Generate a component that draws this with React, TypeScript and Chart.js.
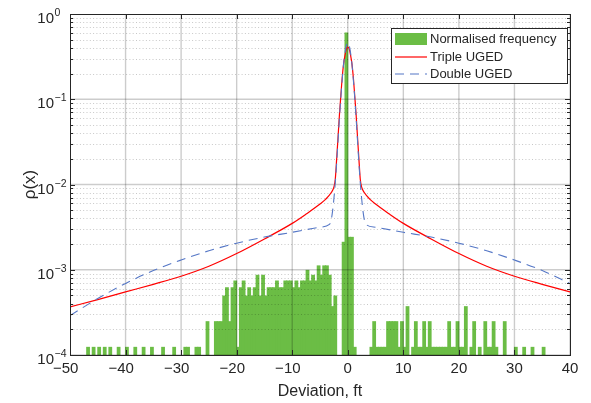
import React, { useEffect, useRef } from 'react';
import { Chart, registerables } from 'chart.js';

Chart.register(...registerables);

// ---------- data ----------
const binCenters = [
  -46.75, -45.75, -44.75, -43.75, -42.75, -41.25, -39.75, -38.25, -36.75, -35.25,
  -33.25, -31.25, -29.25, -28.75, -27.25, -26.75, -25.25, -23.75, -23.25, -22.75,
  -22.25, -21.75, -21.25, -20.75, -20.25, -19.75, -19.25, -18.75, -18.25, -17.75,
  -17.25, -16.75, -16.25, -15.75, -15.25, -14.75, -14.25, -13.75, -13.25, -12.75,
  -12.25, -11.75, -11.25, -10.75, -10.25, -9.75, -9.25, -8.75, -8.25, -7.75,
  -7.25, -6.75, -6.25, -5.75, -5.25, -4.75, -4.25, -3.75, -3.25, -2.75,
  -2.25, -0.75, -0.25, 0.25, 0.75, 1.25, 4.25, 4.75, 5.25, 5.75,
  6.25, 6.75, 7.25, 7.75, 8.25, 8.75, 9.25, 9.75, 10.25, 10.75,
  11.75, 12.25, 12.75, 13.25, 13.75, 14.25, 14.75, 15.25, 15.75, 16.25,
  16.75, 17.25, 17.75, 18.25, 18.75, 19.25, 19.75, 20.25, 20.75, 21.25,
  22.25, 22.75, 23.75, 24.75, 25.25, 25.75, 26.25, 26.75, 28.25, 30.25,
  31.75, 33.25, 35.25,
];
const frequency = [
  1.23e-4, 1.23e-4, 1.23e-4, 1.23e-4, 1.23e-4, 1.23e-4, 1.23e-4, 1.23e-4, 1.23e-4, 1.23e-4,
  1.23e-4, 1.23e-4, 1.23e-4, 1.23e-4, 1.23e-4, 1.23e-4, 2.46e-4, 2.46e-4, 2.46e-4, 2.46e-4,
  4.92e-4, 6.15e-4, 2.46e-4, 6.15e-4, 7.38e-4, 1.23e-4, 6.15e-4, 7.38e-4, 4.92e-4, 6.15e-4,
  4.92e-4, 6.15e-4, 8.61e-4, 4.92e-4, 8.61e-4, 4.92e-4, 6.15e-4, 6.15e-4, 6.15e-4, 7.38e-4,
  6.15e-4, 6.15e-4, 7.38e-4, 7.38e-4, 7.38e-4, 6.15e-4, 7.38e-4, 6.15e-4, 7.38e-4, 7.38e-4,
  9.84e-4, 7.38e-4, 8.61e-4, 7.38e-4, 1.11e-3, 8.61e-4, 1.11e-3, 1.11e-3, 8.61e-4, 3.69e-4,
  4.92e-4, 2.1e-3, 0.6, 2.4e-3, 2.4e-3, 1.23e-4, 1.23e-4, 2.46e-4, 1.23e-4, 1.23e-4,
  1.23e-4, 1.23e-4, 2.46e-4, 2.46e-4, 2.46e-4, 2.46e-4, 1.23e-4, 2.46e-4, 1.23e-4, 3.69e-4,
  1.23e-4, 2.46e-4, 1.23e-4, 1.23e-4, 2.46e-4, 1.23e-4, 2.46e-4, 1.23e-4, 1.23e-4, 1.23e-4,
  1.23e-4, 1.23e-4, 1.23e-4, 2.46e-4, 1.23e-4, 1.23e-4, 2.46e-4, 1.23e-4, 1.23e-4, 3.69e-4,
  1.23e-4, 2.46e-4, 1.23e-4, 2.46e-4, 1.23e-4, 1.23e-4, 2.46e-4, 1.23e-4, 2.46e-4, 1.23e-4,
  1.23e-4, 1.23e-4, 1.23e-4,
];

const tripleX = [
  -50, -45, -40, -35, -30, -25, -20, -15, -10, -7.5, -5, -4, -3, -2.5,
  -2.25, -2, -1.75, -1.5, -1.25, -1, -0.75, -0.5, -0.25, 0, 0.25, 0.5, 0.75, 1, 1.25, 1.5,
  1.75, 2, 2.25, 2.5, 3, 4, 5, 7.5, 10, 15, 20, 25, 30, 35, 40,
];
const tripleY = [
  3.66e-4, 4.47e-4, 5.5e-4, 6.75e-4, 8.4e-4, 1.1e-3, 1.55e-3, 2.3e-3, 3.5e-3, 4.5e-3, 5.9e-3, 6.7e-3, 8.0e-3, 9.3e-3,
  1.15e-2, 2.0e-2, 3.6e-2, 6.6e-2, 0.11, 0.18, 0.26, 0.33, 0.39, 0.41, 0.39, 0.33, 0.26, 0.18, 0.11, 6.6e-2,
  3.6e-2, 2.0e-2, 1.15e-2, 9.3e-3, 8.0e-3, 6.7e-3, 5.9e-3, 4.5e-3, 3.5e-3, 2.3e-3, 1.55e-3, 1.1e-3, 8.4e-4, 6.75e-4, 5.5e-4,
];

const doubleX = [
  -50, -45, -40, -35, -30, -25, -20, -15, -10, -5, -3.3, -3, -2.75, -2.5,
  -2.25, -2, -1.75, -1.5, -1.25, -1, -0.75, -0.5, -0.25, 0, 0.25, 0.5, 0.75, 1, 1.25, 1.5,
  1.75, 2, 2.25, 2.5, 2.75, 3, 3.3, 5, 10, 15, 20, 25, 30, 35, 40,
];
const doubleY = [
  2.9e-4, 4.6e-4, 6.9e-4, 9.8e-4, 1.3e-3, 1.67e-3, 2.05e-3, 2.42e-3, 2.75e-3, 3.15e-3, 3.4e-3, 3.8e-3, 4.8e-3, 6.8e-3,
  1.05e-2, 1.8e-2, 3.3e-2, 6.0e-2, 0.105, 0.17, 0.26, 0.35, 0.43, 0.46, 0.43, 0.35, 0.26, 0.17, 0.105, 6.0e-2,
  3.3e-2, 1.8e-2, 1.05e-2, 6.8e-3, 4.8e-3, 3.8e-3, 3.4e-3, 3.15e-3, 2.75e-3, 2.42e-3, 2.05e-3, 1.67e-3, 1.3e-3, 9.8e-4, 6.9e-4,
];

const xTicks = [-50, -40, -30, -20, -10, 0, 10, 20, 30, 40];
const yTicks = [1e-4, 1e-3, 1e-2, 1e-1, 1];
const yTickExponents = ['\u22124', '\u22123', '\u22122', '\u22121', '0'];
const minorMultipliers = [2, 3, 4, 5, 6, 7, 8, 9];
const legendLabels = ['Normalised frequency', 'Triple UGED', 'Double UGED'];
const xTitle = 'Deviation, ft';
const yTitle = '\u03C1(x)';

// ---------- styles ----------
const GREEN = '#6bbd45';
const RED = '#ff0000';
const BLUE = '#5577c6';
const AXIS = '#262626';
const FONT = '"Liberation Sans", Arial, Helvetica, sans-serif';
const DASH = [9, 6];

const matlabPlugin = {
  id: 'matlabLook',
  afterDatasetDraw(chart: any, args: any) {
    if (args.index !== 0) return;
    const { ctx, chartArea: a, scales } = chart;
    const xs = scales.x;
    const ys = scales.y;
    ctx.save();
    ctx.beginPath();
    ctx.rect(a.left, a.top, a.right - a.left, a.bottom - a.top);
    ctx.clip();
    // minor horizontal dotted grid
    ctx.strokeStyle = 'rgba(0,0,0,0.22)';
    ctx.lineWidth = 1;
    ctx.setLineDash([1, 2.3]);
    for (let i = 0; i < yTicks.length - 1; i++) {
      for (const m of minorMultipliers) {
        const y = Math.round(ys.getPixelForValue(yTicks[i] * m)) + 0.5;
        ctx.beginPath();
        ctx.moveTo(a.left, y);
        ctx.lineTo(a.right, y);
        ctx.stroke();
      }
    }
    ctx.setLineDash([]);
    // major grid
    ctx.strokeStyle = 'rgba(0,0,0,0.2)';
    ctx.lineWidth = 1.4;
    for (const t of xTicks) {
      const x = xs.getPixelForValue(t);
      ctx.beginPath();
      ctx.moveTo(x, a.top);
      ctx.lineTo(x, a.bottom);
      ctx.stroke();
    }
    for (const t of yTicks) {
      const y = ys.getPixelForValue(t);
      ctx.beginPath();
      ctx.moveTo(a.left, y);
      ctx.lineTo(a.right, y);
      ctx.stroke();
    }
    ctx.restore();
  },
  afterDraw(chart: any) {
    const { ctx, chartArea: a, scales } = chart;
    const xs = scales.x;
    const ys = scales.y;
    ctx.save();
    // frame
    ctx.strokeStyle = AXIS;
    ctx.lineWidth = 1;
    ctx.strokeRect(Math.round(a.left) + 0.5, Math.round(a.top) + 0.5, Math.round(a.right - a.left), Math.round(a.bottom - a.top));
    // x ticks
    for (const t of xTicks) {
      const x = Math.round(xs.getPixelForValue(t)) + 0.5;
      ctx.beginPath();
      ctx.moveTo(x, a.bottom);
      ctx.lineTo(x, a.bottom - 5);
      ctx.moveTo(x, a.top);
      ctx.lineTo(x, a.top + 5);
      ctx.stroke();
    }
    // y ticks (major + minor)
    for (let i = 0; i < yTicks.length; i++) {
      const y = Math.round(ys.getPixelForValue(yTicks[i])) + 0.5;
      ctx.beginPath();
      ctx.moveTo(a.left, y);
      ctx.lineTo(a.left + 5, y);
      ctx.moveTo(a.right, y);
      ctx.lineTo(a.right - 5, y);
      ctx.stroke();
      if (i < yTicks.length - 1) {
        for (const m of minorMultipliers) {
          const ym = Math.round(ys.getPixelForValue(yTicks[i] * m)) + 0.5;
          ctx.beginPath();
          ctx.moveTo(a.left, ym);
          ctx.lineTo(a.left + 3, ym);
          ctx.moveTo(a.right, ym);
          ctx.lineTo(a.right - 3, ym);
          ctx.stroke();
        }
      }
    }
    // x tick labels
    ctx.fillStyle = AXIS;
    ctx.font = `15px ${FONT}`;
    ctx.textBaseline = 'alphabetic';
    for (const t of xTicks) {
      const x = xs.getPixelForValue(t);
      const s = String(Math.abs(t));
      const w = ctx.measureText(s).width;
      ctx.textAlign = 'center';
      ctx.fillText(s, x, a.bottom + 18);
      if (t < 0) {
        ctx.textAlign = 'right';
        ctx.fillText('\u2212', x - w / 2, a.bottom + 18);
      }
    }
    // y tick labels
    for (let i = 0; i < yTicks.length; i++) {
      const y = ys.getPixelForValue(yTicks[i]);
      ctx.font = `15px ${FONT}`;
      ctx.textAlign = 'right';
      ctx.fillText('10', 54, y + 9);
      ctx.font = `10.5px ${FONT}`;
      ctx.textAlign = 'left';
      ctx.fillText(yTickExponents[i], 54.5, y + 2);
    }
    // axis titles
    ctx.font = `16px ${FONT}`;
    ctx.textAlign = 'center';
    ctx.textBaseline = 'middle';
    ctx.fillText(xTitle, (a.left + a.right) / 2, 392);
    ctx.save();
    ctx.translate(30, (a.top + a.bottom) / 2);
    ctx.rotate(-Math.PI / 2);
    ctx.font = `17px ${FONT}`;
    ctx.fillText(yTitle, 0, 0);
    ctx.restore();

    // legend
    const lx = 391.5, ly = 28.5, lw = 176, lh = 55;
    ctx.fillStyle = '#ffffff';
    ctx.fillRect(lx, ly, lw, lh);
    ctx.strokeStyle = AXIS;
    ctx.lineWidth = 1;
    ctx.strokeRect(lx, ly, lw, lh);
    const rows = [39.5, 57, 74];
    ctx.fillStyle = GREEN;
    ctx.fillRect(395, 33, 32, 12);
    ctx.strokeStyle = RED;
    ctx.lineWidth = 1.2;
    ctx.beginPath();
    ctx.moveTo(395, rows[1]);
    ctx.lineTo(427, rows[1]);
    ctx.stroke();
    ctx.strokeStyle = BLUE;
    ctx.setLineDash(DASH);
    ctx.beginPath();
    ctx.moveTo(395, rows[2]);
    ctx.lineTo(427, rows[2]);
    ctx.stroke();
    ctx.setLineDash([]);
    ctx.fillStyle = AXIS;
    ctx.font = `13px ${FONT}`;
    ctx.textAlign = 'left';
    ctx.textBaseline = 'middle';
    legendLabels.forEach((l, i) => ctx.fillText(l, 430, rows[i]));
    ctx.restore();
  },
};

export default function App() {
  const ref = useRef<HTMLCanvasElement>(null);
  useEffect(() => {
    document.body.style.margin = '0';
    const barData = binCenters.map((x, i) => ({ x, y: frequency[i] }));
    const tripleData = tripleX.map((x, i) => ({ x, y: tripleY[i] }));
    const doubleData = doubleX.map((x, i) => ({ x, y: doubleY[i] }));
    const chart = new Chart(ref.current as HTMLCanvasElement, {
      type: 'bar',
      data: {
        datasets: [
          {
            type: 'bar',
            label: legendLabels[0],
            data: barData as any,
            backgroundColor: GREEN,
            borderWidth: 0,
            barPercentage: 1,
            categoryPercentage: 1,
            inflateAmount: 0.5,
            base: 1e-4,
            order: 3,
          } as any,
          {
            type: 'line',
            label: legendLabels[1],
            data: tripleData as any,
            borderColor: RED,
            borderWidth: 1.2,
            pointRadius: 0,
            cubicInterpolationMode: 'monotone',
            order: 2,
          } as any,
          {
            type: 'line',
            label: legendLabels[2],
            data: doubleData as any,
            borderColor: BLUE,
            borderWidth: 1.1,
            borderDash: DASH,
            pointRadius: 0,
            cubicInterpolationMode: 'monotone',
            order: 1,
          } as any,
        ],
      },
      options: {
        responsive: false,
        animation: false,
        devicePixelRatio: 1,
        layout: { padding: { top: 14, right: 21, left: 0, bottom: 0 } },
        plugins: { legend: { display: false }, tooltip: { enabled: false } },
        scales: {
          x: {
            type: 'linear',
            min: -50,
            max: 40,
            offset: false,
            grid: { display: false, offset: false },
            border: { display: false },
            ticks: { display: false },
            afterFit: (s: any) => { s.height = 48; },
          } as any,
          y: {
            type: 'logarithmic',
            min: 1e-4,
            max: 1,
            grid: { display: false },
            border: { display: false },
            ticks: { display: false },
            afterFit: (s: any) => { s.width = 70; },
          } as any,
        },
      },
      plugins: [matlabPlugin],
    });
    return () => chart.destroy();
  }, []);
  return (
    <div style={{ width: 591, height: 403 }}>
      <canvas ref={ref} width={591} height={403} style={{ display: 'block' }} />
    </div>
  );
}
